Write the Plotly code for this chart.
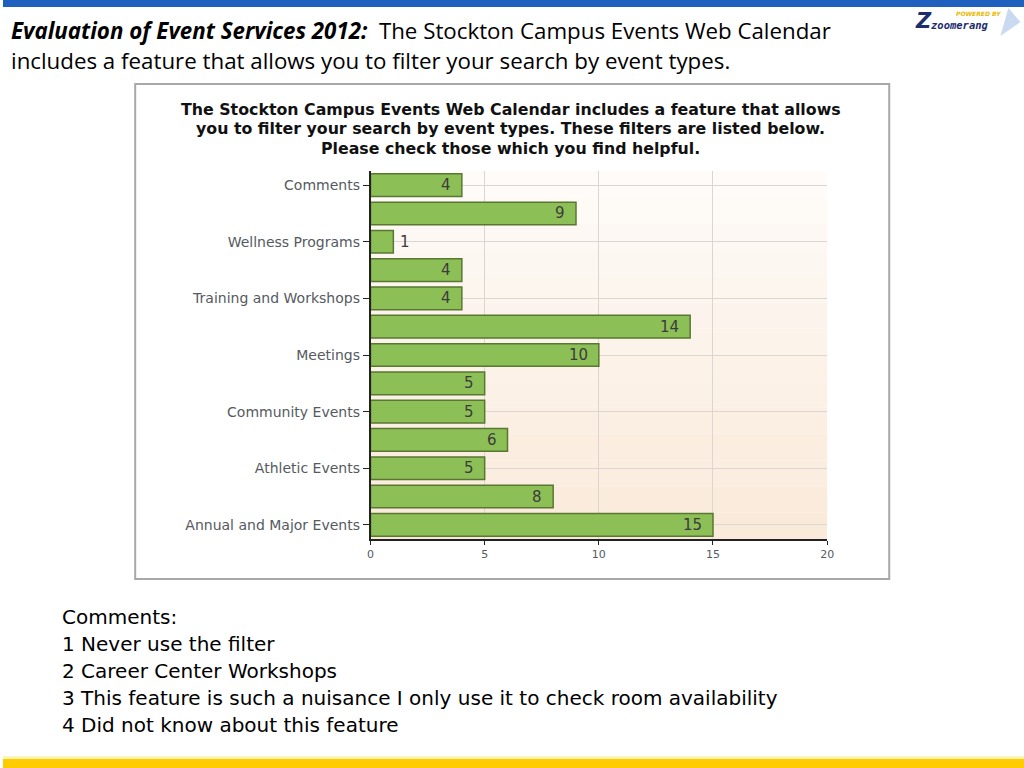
import plotly.graph_objects as go

# ---------------- data ----------------
# categories from bottom to top; only alternating ones carry a visible label
tick_labels = ["Annual and Major Events", "", "Athletic Events", "", "Community Events", "",
               "Meetings", "", "Training and Workshops", "", "Wellness Programs", "", "Comments"]
values = [15, 8, 5, 6, 5, 5, 10, 14, 4, 4, 1, 9, 4]
x_ticks = [0, 5, 10, 15, 20]

slide_title_bold = "Evaluation of Event Services 2012:"
slide_title_rest = "  The Stockton Campus Events Web Calendar"
slide_title_line2 = "includes a feature that allows you to filter your search by event types."
chart_title_lines = ["The Stockton Campus Events Web Calendar includes a feature that allows",
                     "you to filter your search by event types. These filters are listed below.",
                     "Please check those which you find helpful."]
comment_lines = ["Comments:", "1 Never use the filter", "2 Career Center Workshops",
                 "3 This feature is such a nuisance I only use it to check room availability",
                 "4 Did not know about this feature"]

W, H = 1040, 768
def px(x): return ((x - 4) / 0.989) / W
def py(y): return 1 - y / H

CHART_FONT = "DejaVu Sans, Verdana, sans-serif"
SLIDE_FONT = "Open Sans, Lato, sans-serif"

idx = list(range(len(values)))
labeled = [i for i, t in enumerate(tick_labels) if t]

fig = go.Figure()
fig.add_trace(go.Bar(
    y=idx, x=values, orientation="h", width=0.8,
    marker=dict(color="#8dbf57", line=dict(color="#5a7732", width=1.5)),
    hoverinfo="x+y", showlegend=False,
))

annotations = []
# value labels
for i, v in zip(idx, values):
    inside = v >= 2
    annotations.append(dict(
        x=v, y=i, xref="x", yref="y", text=str(v), showarrow=False,
        xanchor="right" if inside else "left", xshift=-9 if inside else 5,
        font=dict(family=CHART_FONT, size=15, color="#3c3c3c"),
    ))

# slide title
annotations.append(dict(
    x=px(10), y=py(30), xref="paper", yref="paper", xanchor="left", yanchor="middle",
    text=f"<b><i>{slide_title_bold}</i></b>{slide_title_rest}", showarrow=False,
    font=dict(family=SLIDE_FONT, size=22.3, color="#000000"),
))
annotations.append(dict(
    x=px(10), y=py(60), xref="paper", yref="paper", xanchor="left", yanchor="middle",
    text=slide_title_line2, showarrow=False,
    font=dict(family=SLIDE_FONT, size=22.3, color="#000000"),
))
# chart title
for k, line in enumerate(chart_title_lines):
    annotations.append(dict(
        x=px(511), y=py(109 + 19.5 * k), xref="paper", yref="paper", xanchor="center", yanchor="middle",
        text=f"<b>{line}</b>", showarrow=False,
        font=dict(family=CHART_FONT, size=15.8, color="#111111"),
    ))
# comments
for k, line in enumerate(comment_lines):
    annotations.append(dict(
        x=px(61), y=py(617 + 27 * k), xref="paper", yref="paper", xanchor="left", yanchor="middle",
        text=line, showarrow=False,
        font=dict(family=CHART_FONT, size=20, color="#000000"),
    ))
# logo (approximation)
annotations.append(dict(x=px(1003), y=py(14), xref="paper", yref="paper", xanchor="right", yanchor="middle",
                        text="<b><i>POWERED BY</i></b>", showarrow=False,
                        font=dict(family="DejaVu Sans", size=6, color="#e8b800")))
annotations.append(dict(x=px(913), y=py(21), xref="paper", yref="paper", xanchor="left", yanchor="middle",
                        text="<b><i>Z</i></b>", showarrow=False,
                        font=dict(family="DejaVu Sans", size=21, color="#1c2d6e")))
annotations.append(dict(x=px(929), y=py(25), xref="paper", yref="paper", xanchor="left", yanchor="middle",
                        text="<b><i>zoomerang</i></b>", showarrow=False,
                        font=dict(family="DejaVu Sans Mono", size=10.5, color="#1c2d6e")))

shapes = []
# top blue band and bottom yellow band
shapes.append(dict(type="rect", xref="paper", yref="paper", x0=0, x1=1, y0=py(7), y1=1,
                   fillcolor="#1f5fbd", line=dict(width=0), layer="above"))
shapes.append(dict(type="rect", xref="paper", yref="paper", x0=0, x1=1, y0=py(768), y1=py(759),
                   fillcolor="#ffcc00", line=dict(width=0), layer="above"))
shapes.append(dict(type="rect", xref="paper", yref="paper", x0=0, x1=1, y0=py(759), y1=py(756),
                   fillcolor="#fff3b8", line=dict(width=0), layer="above"))
# logo arrow
shapes.append(dict(type="path", xref="paper", yref="paper",
                   path=f"M {px(1000)},{py(36)} L {px(1020)},{py(22)} L {px(1008)},{py(8)} L {px(1004)},{py(22)} Z",
                   fillcolor="#c9daf0", line=dict(width=0), layer="below"))
# chart box
shapes.append(dict(type="rect", xref="paper", yref="paper", x0=px(136), x1=px(889), y0=py(579), y1=py(84),
                   fillcolor="rgba(0,0,0,0)", line=dict(color="#a8a8a8", width=2), layer="above"))
# plot background gradient strips
n = 14
c0 = (254, 251, 248)
c1 = (250, 234, 218)
for k in range(n):
    t = k / (n - 1)
    col = tuple(round(c0[j] + (c1[j] - c0[j]) * t) for j in range(3))
    shapes.append(dict(type="rect", xref="x domain", yref="y domain", x0=0, x1=1,
                       y0=1 - (k + 1) / n, y1=1 - k / n,
                       fillcolor=f"rgb{col}", line=dict(width=0), layer="below"))

fig.update_layout(
    width=W, height=H, margin=dict(l=0, r=0, t=0, b=0), autosize=False,
    paper_bgcolor="white", plot_bgcolor="white",
    annotations=annotations, shapes=shapes, bargap=0.2,
    xaxis=dict(domain=[px(371), px(827)], range=[0, 20], tickvals=x_ticks,
               showgrid=True, gridcolor="#dcd6d2", gridwidth=1, zeroline=False,
               showline=True, linecolor="#222222", linewidth=1.5,
               ticks="outside", ticklen=4, tickcolor="#222222",
               tickfont=dict(family=CHART_FONT, size=11, color="#555a60")),
    yaxis=dict(domain=[py(539), py(171)], range=[-0.5, len(values) - 0.5],
               tickvals=labeled, ticktext=[tick_labels[i] for i in labeled],
               showgrid=True, gridcolor="#dcd6d2", gridwidth=1, zeroline=False,
               showline=True, linecolor="#222222", linewidth=1.5,
               ticks="outside", ticklen=6, tickcolor="#222222",
               tickfont=dict(family=CHART_FONT, size=14, color="#555a60")),
)

fig.write_html("out.html",
               config={"displayModeBar": False, "responsive": False},
               post_script="document.body.style.margin='0';document.body.style.overflow='hidden';")
